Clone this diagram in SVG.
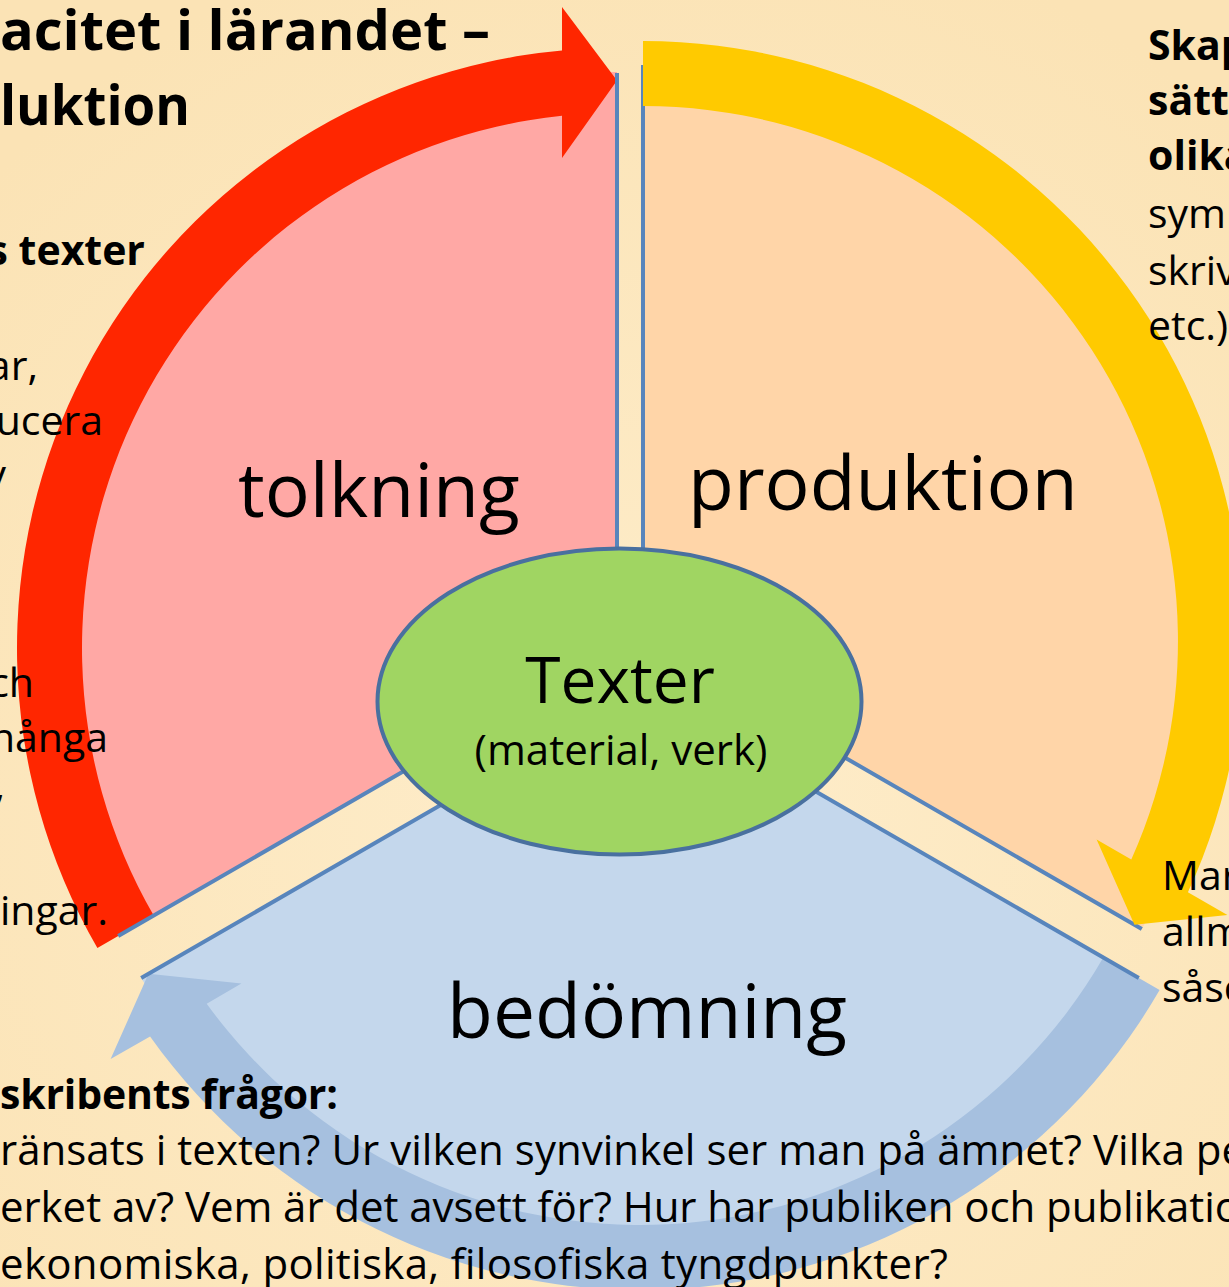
<svg xmlns="http://www.w3.org/2000/svg" width="1229" height="1287" viewBox="0 0 1229 1287">
<defs>
<radialGradient id="bg" cx="640" cy="800" r="900" gradientUnits="userSpaceOnUse">
<stop offset="0" stop-color="#FEEDCB"/>
<stop offset="1" stop-color="#FBE3B5"/>
</radialGradient>
</defs>
<style>
.t{font-family:"Open Sans","Noto Sans","Liberation Sans",sans-serif;fill:#000}
.b{font-weight:bold}
.big{font-size:75px}
.body{font-size:41px}
.edge{fill:none;stroke:#5885BC;stroke-width:4}
</style>
<rect x="0" y="0" width="1229" height="1287" fill="url(#bg)"/>

<g id="sector-tolkning">
<path d="M617,648 L617,72 A576,576 0 0 0 118.2,936 Z" fill="#FFA8A5"/>
</g>
<g id="sector-produktion">
<path d="M643,641 L643,65 A576,576 0 0 1 1141.8,929 Z" fill="#FFD5A8"/>
</g>
<g id="sector-bedomning">
<path d="M640,690 L1138.8,978 A576,576 0 0 1 141.2,978 Z" fill="#C4D7EC"/>
</g>

<g id="connectors">
<path id="arrow-red" d="M97.4,948 A600,600 0 0 1 562,50.5 L562,7 L617,80.5 L562,158 L562,115.8 A535,535 0 0 0 153.7,915.5 Z" fill="#FF2600"/>
<path id="arrow-blue" d="M1159.6,990 A600,600 0 0 1 150.1,1036.4 L110.6,1059.1 L148.5,973.75 L241.4,983.6 L206.7,1003.7 A535,535 0 0 0 1103.3,957.5 Z" fill="#A6C0DF"/>
<path class="edge" d="M617,73 L617,648 L118.2,936"/>
<path class="edge" d="M643,65 L643,641 L1141.8,929"/>
<path class="edge" d="M1138.8,978 L640,690 L141.2,978"/>
<path id="arrow-yellow" d="M643,41 A600,600 0 0 1 1187.9,892.2 L1227.4,915 L1134.5,924.8 L1096.6,839.5 L1131.3,859.5 A535,535 0 0 0 643,106 Z" fill="#FFCA00"/>
</g>

<g id="node-texter">
<ellipse cx="619.5" cy="701.5" rx="242" ry="153" fill="#A0D562" stroke="#49709F" stroke-width="4"/>
<text class="t" x="620" y="703" font-size="64" text-anchor="middle">Texter</text>
<text class="t" x="621" y="765" font-size="42" text-anchor="middle">(material, verk)</text>
</g>

<g id="label-tolkning"><text class="t big" x="238" y="517">tolkning</text></g>
<g id="label-produktion"><text class="t big" x="688" y="510">produktion</text></g>
<g id="label-bedomning"><text class="t big" x="447" y="1038">bedömning</text></g>

<g id="text-left">
<text class="t b" x="0" y="50" font-size="56" textLength="490" lengthAdjust="spacingAndGlyphs">acitet i lärandet –</text>
<text class="t b" x="0" y="125" font-size="56" textLength="190" lengthAdjust="spacingAndGlyphs">luktion</text>
<text class="t b body" x="145" y="265" text-anchor="end">s texter</text>
<text class="t body" x="38" y="380" text-anchor="end">ar,</text>
<text class="t body" x="103" y="435" text-anchor="end">ucera</text>
<text class="t body" x="6" y="489" text-anchor="end">v</text>
<text class="t body" x="34" y="697" text-anchor="end">ch</text>
<text class="t body" x="108" y="752" text-anchor="end">hånga</text>
<text class="t body" x="5" y="800" text-anchor="end">,</text>
<text class="t body" x="108" y="925" text-anchor="end">ingar.</text>
</g>

<g id="text-right">
<text class="t b body" x="1148" y="60">Skap</text>
<text class="t b body" x="1148" y="115">sätt</text>
<text class="t b body" x="1148" y="170">olika</text>
<text class="t body" x="1148" y="228">sym</text>
<text class="t body" x="1148" y="285">skriv</text>
<text class="t body" x="1148" y="340">etc.)</text>
<text class="t body" x="1162" y="890">Mar</text>
<text class="t body" x="1162" y="946">allm</text>
<text class="t body" x="1162" y="1002">såsc</text>
</g>

<g id="text-bottom">
<text class="t b body" x="0" y="1109" textLength="338">skribents frågor:</text>
<text class="t" font-size="42" x="0" y="1165" textLength="1245">ränsats i texten? Ur vilken synvinkel ser man på ämnet? Vilka pe</text>
<text class="t" font-size="42" x="0" y="1222" textLength="1240">erket av? Vem är det avsett för? Hur har publiken och publikatio</text>
<text class="t" font-size="42" x="0" y="1279" textLength="948">ekonomiska, politiska, filosofiska tyngdpunkter?</text>
</g>
</svg>
